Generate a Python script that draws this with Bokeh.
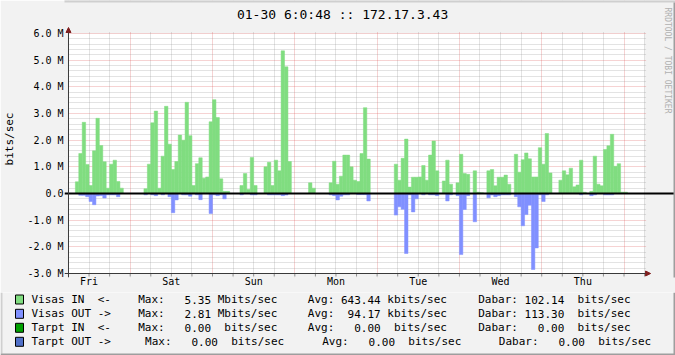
import math
from bokeh.plotting import figure
from bokeh.layouts import column
from bokeh.models import (Range1d, FixedTicker, Arrow, NormalHead,
                          BoxAnnotation, Span, ColumnDataSource)
from bokeh.core.properties import value
from bokeh.embed import file_html
from bokeh.resources import INLINE

# ---------------- data (hourly, Mbit/s, starting Fri 06:00) ----------------
days = ["Fri", "Sat", "Sun", "Mon", "Tue", "Wed", "Thu"]

visas_in = [
    0, 0, 0.44, 1.5, 2.67, 1.09, 0.3, 1.6, 2.82, 1.8, 1.19, 0.2,            # 0-11
    1.1, 1.25, 0.45, 0.2, 0, 0, 0, 0, 0, 0, 0.18, 1.1,                      # 12-23
    2.65, 3.09, 0.2, 1.4, 3.27, 1.85, 0.9, 1.2, 2.19, 2.0, 3.42, 2.17,       # 24-35
    0.3, 1.12, 1.34, 0.57, 0.62, 2.69, 3.52, 2.85, 0.55, 0.08, 0.08, 0,      # 36-47
    0, 0, 0.3, 0.75, 0.15, 1.35, 0.3, 0, 0, 1.0, 1.17, 0.3,                  # 48-59
    1.25, 0.85, 5.35, 4.75, 1.2, 0, 0, 0, 0, 0, 0.4, 0.2,                    # 60-71
    0, 0, 0, 0, 0.4, 1.21, 0.35, 0.65, 1.44, 1.44, 1.0, 0.5,                 # 72-83
    0.45, 1.5, 3.22, 1.29, 0, 0, 0, 0, 0, 0, 0, 1.1,                         # 84-95
    0.5, 1.32, 2.04, 0.24, 0.61, 0.61, 0.62, 1.05, 0.5, 1.44, 1.97, 0.85,    # 96-107
    0, 0.47, 1.25, 0.35, 0, 0.4, 1.47, 0.75, 0.72, 0, 0.85, 0.05,            # 108-119
    0.03, 0, 0.85, 0.9, 0.29, 0.61, 0.61, 0.69, 0.35, 0, 1.47, 0.8,          # 120-131
    1.27, 1.52, 1.3, 0.62, 0.62, 1.72, 1.1, 2.25, 0.77, 0, 0, 0.5,           # 132-143
    0.85, 0.7, 0.95, 0.25, 0.32, 1.25, 0.05, 0, 0.08, 1.4, 0.35, 0.29,       # 144-155
    1.65, 1.79, 2.22, 1.02, 1.12, 0.05, 0.05, 0, 0, 0, 0, 0,                 # 156-167
]

visas_out = [
    0, 0, 0, 0.07, 0.07, 0.12, 0.3, 0.42, 0.09, 0.08, 0.17, 0.05,            # 0-11
    0.05, 0.05, 0.12, 0, 0, 0, 0, 0, 0, 0, 0.05, 0,                          # 12-23
    0.05, 0.08, 0, 0.05, 0, 0.12, 0.72, 0.24, 0, 0.05, 0.05, 0.1,            # 24-35
    0, 0.05, 0.23, 0, 0, 0.75, 0.05, 0.08, 0.05, 0.2, 0, 0,                  # 36-47
    0, 0, 0.05, 0, 0, 0.05, 0.05, 0, 0, 0, 0.05, 0.05,                       # 48-59
    0.05, 0.05, 0.08, 0.06, 0, 0, 0, 0, 0, 0, 0, 0,                          # 60-71
    0, 0, 0, 0, 0.05, 0.08, 0.24, 0.1, 0.05, 0.05, 0, 0,                     # 72-83
    0.04, 0.04, 0.04, 0.28, 0, 0, 0, 0, 0, 0, 0, 0.81,                       # 84-95
    0.5, 0.59, 2.25, 0.05, 0.69, 0.2, 0, 0.05, 0, 0.05, 0.05, 0.08,          # 96-107
    0, 0, 0.28, 0.05, 0, 0.08, 2.29, 0.6, 0.08, 0, 1.06, 0,                  # 108-119
    0, 0, 0.16, 0.06, 0.12, 0.08, 0.05, 0.05, 0.05, 0, 0.12, 0.5,            # 120-131
    1.21, 0.79, 0.44, 2.85, 2.04, 0.05, 0.3, 0.05, 0, 0, 0, 0,               # 132-143
    0, 0, 0, 0, 0, 0.05, 0, 0, 0.08, 0.05, 0, 0,                             # 144-155
    0.05, 0.05, 0.05, 0, 0, 0, 0, 0, 0, 0, 0, 0,                             # 156-167
]

y_ticks = [-3, -2, -1, 0, 1, 2, 3, 4, 5, 6]
y_tick_labels = ["-3.0 M", "-2.0 M", "-1.0 M", "0.0", "1.0 M", "2.0 M",
                 "3.0 M", "4.0 M", "5.0 M", "6.0 M"]

title_text = "01-30 6:0:48 :: 172.17.3.43"
unit_text = "bits/sec"
watermark_text = "RRDTOOL / TOBI OETIKER"

legend_names = ["Visas IN  <-", "Visas OUT ->", "Tarpt IN  <-", "Tarpt OUT ->"]
max_vals = [5.35, 2.81, 0.00, 0.00]
max_pref = ["M", "M", " ", " "]
avg_vals = [643.44, 94.17, 0.00, 0.00]
avg_pref = ["k", "k", " ", " "]
dabar_vals = [102.14, 113.30, 0.00, 0.00]
dabar_pref = [" ", " ", " ", " "]

# ---------------- style ----------------
C_IN = "#80DD80"
C_OUT = "#8090FF"
C_TIN = "#00A000"
C_TOUT = "#5070C8"
legend_colors = [C_IN, C_OUT, C_TIN, C_TOUT]
BACK = "#F2F2F2"
SHADE_A = "#CFCFCF"
SHADE_B = "#9E9E9E"
ARROW = "#801F1F"
AXIS = "#3A3A3A"
MONO = "DejaVu Sans Mono"

W = 675
H_MAIN, H_LEG = 292, 63
# data area in canvas pixels
DL, DR, DT, DB = 66, 644, 33, 273
# frame of the main figure in canvas pixels
FL, FR, FT, FB = 62, W, 0, 277
NH = len(visas_in)
YMIN, YMAX = -3, 6
HPX = (DR - DL) / NH            # pixels per hour
MPX = (DB - DT) / (YMAX - YMIN)  # pixels per Mbit/s


def X(px):
    return (px - DL) / HPX


def Y(py):
    return YMAX - (py - DT) / MPX


p = figure(width=W, height=H_MAIN,
           x_range=Range1d(X(FL), X(FR)), y_range=Range1d(Y(FB), Y(FT)),
           output_backend="svg", toolbar_location=None,
           min_border_left=FL, min_border_right=W - FR,
           min_border_top=FT, min_border_bottom=H_MAIN - FB,
           background_fill_color=BACK, border_fill_color=BACK,
           outline_line_color=None)
p.frame_align = False

# white canvas of the graph area
p.add_layout(BoxAnnotation(left=0, right=NH, bottom=YMIN, top=YMAX,
                           fill_color="white", fill_alpha=1, line_color=None,
                           level="image"))

# ---------------- grids ----------------
noons = [6 + 24 * i for i in range(7)]
midnights = [18 + 24 * i for i in range(7)]
sixes = [6 * i for i in range(NH // 6 + 1)]
p.xgrid.ticker = FixedTicker(ticks=midnights,
                             minor_ticks=[s for s in sixes if s not in midnights])
p.xgrid.grid_line_color = "#DE4F4F"
p.xgrid.grid_line_alpha = 0.5
p.xgrid.grid_line_dash = "1 1"
p.xgrid.minor_grid_line_color = "#8F8F8F"
p.xgrid.minor_grid_line_alpha = 0.5
p.xgrid.minor_grid_line_dash = "1 1"

y_minor = [round(YMIN + 0.2 * k, 1) for k in range(46)]
y_minor = [v for v in y_minor if abs(v - round(v)) > 1e-6]
p.ygrid.ticker = FixedTicker(ticks=y_ticks, minor_ticks=y_minor)
p.ygrid.grid_line_color = "#DE4F4F"
p.ygrid.grid_line_alpha = 0.5
p.ygrid.grid_line_dash = "1 1"
p.ygrid.minor_grid_line_color = "#8F8F8F"
p.ygrid.minor_grid_line_alpha = 0.5
p.ygrid.minor_grid_line_dash = "1 1"

# grey margins around the graph area (hide grid lines outside it)
for kw in [dict(left=X(FL - 5), right=X(DL - 0.5), bottom=Y(FB + 5), top=Y(FT - 5)),
           dict(left=X(DR + 1.5), right=X(FR + 5), bottom=Y(FB + 5), top=Y(FT - 5)),
           dict(left=X(FL - 5), right=X(FR + 5), bottom=Y(DT - 1.5), top=Y(FT - 5)),
           dict(left=X(FL - 5), right=X(FR + 5), bottom=Y(FB + 5), top=Y(DB + 0.5))]:
    p.add_layout(BoxAnnotation(fill_color=BACK, fill_alpha=1, line_color=None,
                               level="underlay", **kw))

# ---------------- axes (labels) ----------------
p.xaxis.ticker = FixedTicker(ticks=noons)
p.xaxis.major_label_overrides = {n: d for n, d in zip(noons, days)}
p.xaxis.axis_line_color = None
p.xaxis.major_tick_line_color = None
p.xaxis.minor_tick_line_color = None
p.xaxis.major_tick_in = 0
p.xaxis.major_tick_out = 0
p.xaxis.major_label_standoff = -2
p.xaxis.major_label_text_font = MONO
p.xaxis.major_label_text_font_size = "10px"
p.xaxis.major_label_text_color = "black"

p.yaxis.ticker = FixedTicker(ticks=y_ticks)
p.yaxis.major_label_overrides = {t: l for t, l in zip(y_ticks, y_tick_labels)}
p.yaxis.axis_line_color = None
p.yaxis.major_tick_line_color = None
p.yaxis.minor_tick_line_color = None
p.yaxis.major_tick_in = 0
p.yaxis.major_tick_out = 0
p.yaxis.major_label_standoff = 1
p.yaxis.major_label_text_font = MONO
p.yaxis.major_label_text_font_size = "10px"
p.yaxis.major_label_text_color = "black"
p.yaxis.axis_label = unit_text
p.yaxis.axis_label_text_font = MONO
p.yaxis.axis_label_text_font_size = "11px"
p.yaxis.axis_label_text_font_style = "normal"
p.yaxis.axis_label_text_color = "black"
p.yaxis.axis_label_standoff = 8

# ---------------- data areas ----------------
src = ColumnDataSource(dict(
    x=[h + 0.5 for h in range(NH)],
    vin=visas_in,
    vout=[-v for v in visas_out],
))
p.vbar(x="x", width=1, top="vin", bottom=0, source=src,
       fill_color=C_IN, line_color=C_IN, line_width=0.5)
p.vbar(x="x", width=1, top=0, bottom="vout", source=src,
       fill_color=C_OUT, line_color=C_OUT, line_width=0.5)

p.add_layout(Span(location=0, dimension="width", line_color="black", line_width=2))

# small tick marks under the time axis
p.segment(x0=sixes, y0=[YMIN] * len(sixes), x1=sixes, y1=[Y(DB + 3)] * len(sixes),
          line_color="#8F8F8F", line_width=1)

# ---------------- axis lines with arrow heads ----------------
p.add_layout(Arrow(x_start=0, y_start=Y(DB + 4), x_end=0, y_end=Y(DT - 6),
                   line_color=AXIS, line_width=1,
                   end=NormalHead(size=5, fill_color=ARROW, line_color=ARROW)))
p.add_layout(Arrow(x_start=X(DL - 4), y_start=YMIN, x_end=X(DR + 6), y_end=YMIN,
                   line_color=AXIS, line_width=1,
                   end=NormalHead(size=5, fill_color=ARROW, line_color=ARROW)))

# ---------------- title & watermark (inside the frame) ----------------
p.text(x=[X(341)], y=[Y(14)], text=[title_text], text_font=value(MONO),
       text_font_size=value("13px"), text_color="black",
       text_align="center", text_baseline="middle")
p.text(x=[X(667)], y=[Y(60)], text=[watermark_text], text_font=value(MONO),
       text_font_size=value("8px"), text_color="#B0B0B0", angle=-math.pi / 2,
       text_align="center", text_baseline="middle")

# outer shading of the main part
p.add_layout(BoxAnnotation(left=X(FL - 5), right=X(W + 5), top=Y(-5), bottom=Y(2),
                           fill_color=SHADE_A, fill_alpha=1, line_color=None))
p.add_layout(BoxAnnotation(left=X(W - 2), right=X(W + 5), top=Y(2), bottom=Y(FB + 5),
                           fill_color=SHADE_B, fill_alpha=1, line_color=None))

# ---------------- legend figure ----------------
lg = figure(width=W, height=H_LEG, x_range=Range1d(0, W), y_range=Range1d(H_LEG, 0),
            output_backend="svg", toolbar_location=None,
            min_border_left=0, min_border_right=0, min_border_top=0, min_border_bottom=0,
            x_axis_type=None, y_axis_type=None,
            background_fill_color=BACK, border_fill_color=BACK, outline_line_color=None)
lg.frame_align = False
lg.xgrid.visible = False
lg.ygrid.visible = False

CW = 0.6021 * 11
row_y = [299 - H_MAIN, 313.3 - H_MAIN, 327.3 - H_MAIN, 341.3 - H_MAIN]
piece_x = [[31, 137.7, 307.3, 477.7]] * 3 + [[31, 144.6, 321.7, 498.3]]

tx, ty, tt = [], [], []


def put_mono(s, x0, y):
    col = 0
    for tok in s.split(" "):
        if tok:
            tx.append(x0 + col * CW)
            ty.append(y)
            tt.append(tok)
        col += len(tok) + 1


for i in range(4):
    xs = piece_x[i]
    put_mono(legend_names[i], xs[0], row_y[i])
    put_mono("Max: %6.2f %sbits/sec" % (max_vals[i], max_pref[i]), xs[1], row_y[i])
    put_mono("Avg: %6.2f %sbits/sec" % (avg_vals[i], avg_pref[i]), xs[2], row_y[i])
    put_mono("Dabar: %6.2f %sbits/sec" % (dabar_vals[i], dabar_pref[i]), xs[3], row_y[i])

lg.text(x=tx, y=ty, text=tt, text_font=value(MONO), text_font_size=value("11px"),
        text_color="black", text_align="left", text_baseline="middle")

lg.quad(left=[15] * 4, right=[23] * 4,
        top=[y - 4.5 for y in row_y], bottom=[y + 4.5 for y in row_y],
        fill_color=legend_colors, line_color="black", line_width=1)

# outer shading of the legend part
lg.quad(left=[0, 0, W - 2], right=[2, W, W], top=[0, H_LEG - 2, 0],
        bottom=[H_LEG - 2, H_LEG, H_LEG],
        fill_color=[SHADE_A, SHADE_B, SHADE_B], line_color=None)

layout = column(p, lg, spacing=0)
open("out.html", "w").write(file_html(layout, INLINE))
